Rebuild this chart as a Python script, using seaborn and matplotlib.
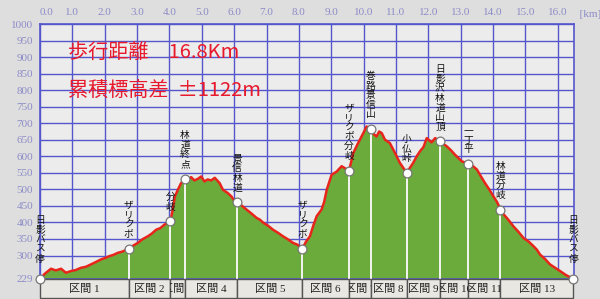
import matplotlib
matplotlib.use("Agg")
import matplotlib.pyplot as plt
import matplotlib.transforms as mtransforms
from matplotlib.patches import Rectangle
import seaborn as sns
import pandas as pd

# ---------------- data ----------------
profile_km = [0.00, 0.15, 0.34, 0.49, 0.65, 0.80, 0.96, 1.10, 1.27, 1.42, 1.57, 1.72, 1.88, 2.00, 2.14,
              2.27, 2.40, 2.55, 2.74, 2.88, 3.02, 3.18, 3.33, 3.45, 3.59, 3.72, 3.84, 4.03, 4.10, 4.17,
              4.26, 4.36, 4.48, 4.58, 4.67, 4.77, 4.88, 4.98, 5.08, 5.18, 5.29, 5.40, 5.55, 5.65, 5.80,
              5.92, 6.01, 6.09, 6.22, 6.38, 6.52, 6.69, 6.80, 6.90, 7.05, 7.20, 7.35, 7.51, 7.66, 7.82,
              7.95, 8.11, 8.22, 8.34, 8.45, 8.55, 8.70, 8.78, 8.86, 9.01, 9.17, 9.32, 9.47, 9.55, 9.68,
              9.83, 9.99, 10.09, 10.22, 10.30, 10.40, 10.48, 10.56, 10.66, 10.81, 10.97, 11.12, 11.33,
              11.43, 11.53, 11.64, 11.74, 11.85, 11.95, 12.10, 12.21, 12.36, 12.57, 12.70, 12.82, 13.03,
              13.24, 13.38, 13.50, 13.62, 13.75, 13.88, 14.01, 14.12, 14.22, 14.32, 14.42, 14.52, 14.63,
              14.78, 14.94, 15.10, 15.25, 15.35, 15.45, 15.60, 15.76, 15.90, 16.07, 16.25, 16.48]
profile_elev = [229, 245, 260, 255, 260, 248, 253, 256, 263, 266, 273, 280, 288, 292, 298,
                302, 308, 312, 321, 330, 338, 350, 358, 366, 378, 383, 393, 403, 439, 479,
                499, 519, 532, 530, 537, 527, 532, 539, 524, 530, 527, 535, 519, 499, 489,
                478, 464, 461, 452, 439, 428, 414, 408, 399, 390, 378, 369, 358, 349, 338,
                333, 321, 342, 358, 392, 419, 439, 462, 499, 544, 554, 570, 561, 557, 610,
                640, 670, 690, 682, 668, 660, 675, 670, 650, 640, 610, 580, 550,
                565, 580, 600, 615, 628, 655, 642, 655, 645, 630, 618, 605, 585,
                577, 570, 560, 540, 519, 500, 479, 462, 441, 425, 414, 402, 388,
                372, 353, 342, 328, 318, 303, 290, 273, 264, 253, 241, 229]

wp_names = ["日影バス停", "ザリクボ", "分岐", "林道終点", "景信林道", "ザリクボ", "ザリクボ分岐",
            "巻路景信山", "小仏峠", "日影沢林道山頂", "一丁平", "林道分岐", "日影バス停"]
wp_km = [0.00, 2.74, 4.03, 4.48, 6.09, 8.11, 9.55, 10.22, 11.33, 12.36, 13.24, 14.22, 16.48]
wp_elev = [229, 321, 403, 532, 461, 321, 557, 682, 550, 645, 577, 439, 229]

section_labels = ["区間 1", "区間 2", "区間 3", "区間 4", "区間 5", "区間 6", "区間 7",
                  "区間 8", "区間 9", "区間 10", "区間 11", "区間 13"]

y_ticks = [229, 300, 350, 400, 450, 500, 550, 600, 650, 700, 750, 800, 850, 900, 950, 1000]
x_ticks = list(range(0, 17))
x_ticklabels = [f"{v:.1f}" for v in x_ticks]

title_lines = ["歩行距離　16.8Km", "累積標高差  ±1122m"]

# ---------------- style ----------------
sns.set_theme(style="white")
plt.rcParams["font.family"] = ["Noto Sans CJK JP", "DejaVu Sans"]

grid_c = "#5656cc"
tick_c = "#8c8cc8"
fig = plt.figure(figsize=(6.0, 2.99), dpi=100, facecolor="#dedede")
ax = fig.add_axes([40 / 600, 1 - 279 / 299, 534 / 600, 255 / 299])
ax.set_facecolor("#ececec")

df = pd.DataFrame({"km": profile_km, "elev": profile_elev})
ax.fill_between(df["km"], 229, df["elev"], color="#6aab3b", lw=0, zorder=2)
ax.vlines(wp_km, 229, wp_elev, colors="#f4f4f4", lw=1.4, zorder=3)
sns.lineplot(data=df, x="km", y="elev", ax=ax, color="#e8251b", lw=1.8, zorder=4)

wdf = pd.DataFrame({"km": wp_km, "elev": wp_elev})
sns.scatterplot(data=wdf, x="km", y="elev", ax=ax, s=40, color="white",
                edgecolor="#777777", linewidth=0.9, zorder=6, clip_on=False)

ax.set_xlim(0, 16.5)
ax.set_ylim(229, 1000)
ax.set_xticks(x_ticks)
ax.set_xticklabels(x_ticklabels)
ax.set_yticks(y_ticks)
ax.xaxis.tick_top()
ax.set_xlabel("")
ax.set_ylabel("")
ax.tick_params(axis="both", length=0, colors=tick_c, labelsize=8, pad=5)
for lab in ax.get_xticklabels() + ax.get_yticklabels():
    lab.set_family("Liberation Serif")
ax.get_xticklabels()[0].set_horizontalalignment("left")
ax.grid(True, which="major", color=grid_c, lw=1.0, zorder=1)
ax.set_axisbelow(True)
for s in ax.spines.values():
    s.set_color(grid_c)
    s.set_linewidth(1.2)

top_tr = mtransforms.blended_transform_factory(ax.transData, ax.transAxes)
ax.text(16.5, 1.0 + 5 / 255, "  [km]", transform=top_tr, ha="left", va="bottom",
        fontsize=8, color=tick_c, family="Liberation Serif", clip_on=False)

# waypoint labels (vertical stacked text)
for i, (name, k, e) in enumerate(zip(wp_names, wp_km, wp_elev)):
    dy = 11 if i in (0, len(wp_names) - 1) else 7
    ax.annotate("\n".join(name), (k, e), xytext=(0, dy), textcoords="offset points",
                ha="center", va="bottom", fontsize=7, linespacing=0.95, color="#111111",
                zorder=7, annotation_clip=False)

# section boxes below the chart
btr = mtransforms.blended_transform_factory(ax.transData, ax.transAxes)
box_h = 19 / 255
for lab, a, b in zip(section_labels, wp_km[:-1], wp_km[1:]):
    r = Rectangle((a, -box_h), b - a, box_h, transform=btr, facecolor="#e9e7e2",
                  edgecolor="#555555", lw=1.0, clip_on=False, zorder=5)
    ax.add_patch(r)
    t = ax.text((a + b) / 2, -box_h / 2, lab, transform=btr, ha="center", va="center",
                fontsize=8, color="#222222", family=["Liberation Serif", "Noto Sans CJK JP"],
                clip_on=True, zorder=6)
    t.set_clip_path(r)

# big red title text
for j, line in enumerate(title_lines):
    fig.text(68 / 600, 1 - (53 + 38 * j) / 299, line, ha="left", va="center",
             fontsize=14.5, color="#e8192c")

fig.savefig("out.png", dpi=100, facecolor=fig.get_facecolor())
